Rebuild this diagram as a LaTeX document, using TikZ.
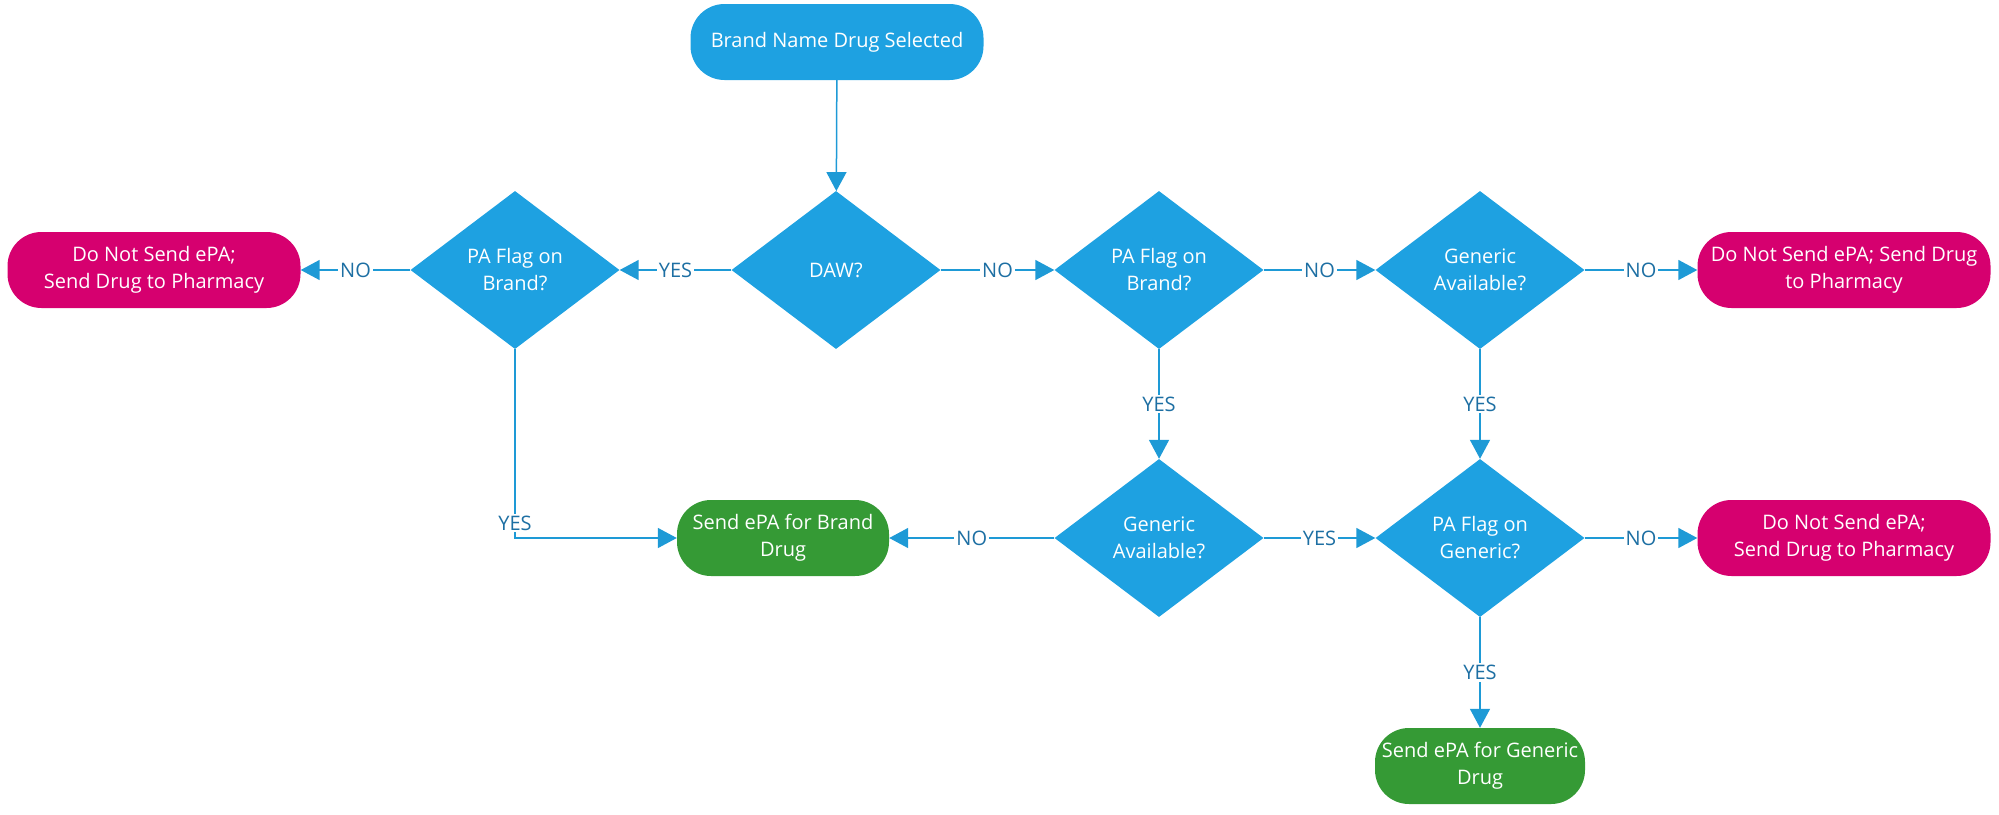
\documentclass[tikz,border=0pt]{standalone}
\usepackage{fontspec}
\setmainfont{Open Sans}
\usetikzlibrary{shapes.geometric,arrows.meta}
\definecolor{nodeblue}{HTML}{1EA1E1}
\definecolor{lineblue}{HTML}{1E9AD6}
\definecolor{labblue}{HTML}{1D6FA3}
\definecolor{nodemag}{HTML}{D6006F}
\definecolor{nodegrn}{HTML}{359A35}
\newcommand{\nodefnt}{\fontsize{20}{27}\selectfont}
\begin{document}
\begin{tikzpicture}[x=1pt,y=-1pt,
  dec/.style={diamond, fill=nodeblue, minimum width=209pt, minimum height=158pt, inner sep=0pt, aspect=1.32, text=white, align=center, font=\nodefnt},
  term/.style={rectangle, rounded corners=34pt, minimum width=293pt, minimum height=76pt, inner sep=1pt, text=white, align=center, font=\nodefnt},
  conn/.style={draw=lineblue, line width=1.5pt, -{Triangle[length=19pt,width=20pt]}},
  lab/.style={fill=white, text=labblue, inner sep=2pt, font=\nodefnt}]
\useasboundingbox (0,0) rectangle (1999,814);
\node[term, fill=nodeblue] (start) at (837,42) {Brand Name Drug Selected};
\node[dec] (daw) at (836,270) {DAW?};
\node[dec] (pab) at (515,270) {PA Flag on\\Brand?};
\node[term, fill=nodemag] (dns1) at (154,270) {Do Not Send ePA;\\Send Drug to Pharmacy};
\node[dec] (pab2) at (1159,270) {PA Flag on\\Brand?};
\node[dec] (gen1) at (1480,270) {Generic\\Available?};
\node[term, fill=nodemag] (dns2) at (1844,270) {Do Not Send ePA; Send Drug\\to Pharmacy};
\node[dec] (gen2) at (1159,538) {Generic\\Available?};
\node[dec] (pag) at (1480,538) {PA Flag on\\Generic?};
\node[term, fill=nodemag] (dns3) at (1844,538) {Do Not Send ePA;\\Send Drug to Pharmacy};
\node[term, fill=nodegrn, minimum width=212pt] (sb) at (783,538) {Send ePA for Brand\\Drug};
\node[term, fill=nodegrn, minimum width=210pt] (sg) at (1480,766) {Send ePA for Generic\\Drug};
\draw[conn] (start) -- (daw);
\draw[conn] (daw) -- node[lab]{YES} (pab);
\draw[conn] (pab) -- node[lab]{NO} (dns1);
\draw[conn] (daw) -- node[lab]{NO} (pab2);
\draw[conn] (pab2) -- node[lab]{NO} (gen1);
\draw[conn] (gen1) -- node[lab]{NO} (dns2);
\draw[conn] (pab2) -- node[lab]{YES} (gen2);
\draw[conn] (gen1) -- node[lab]{YES} (pag);
\draw[conn] (gen2) -- node[lab]{NO} (sb);
\draw[conn] (gen2) -- node[lab]{YES} (pag);
\draw[conn] (pag) -- node[lab]{NO} (dns3);
\draw[conn] (pag) -- node[lab]{YES} (sg);
\draw[conn] (pab) |- node[lab, pos=0.46]{YES} (sb);
\end{tikzpicture}
\end{document}
